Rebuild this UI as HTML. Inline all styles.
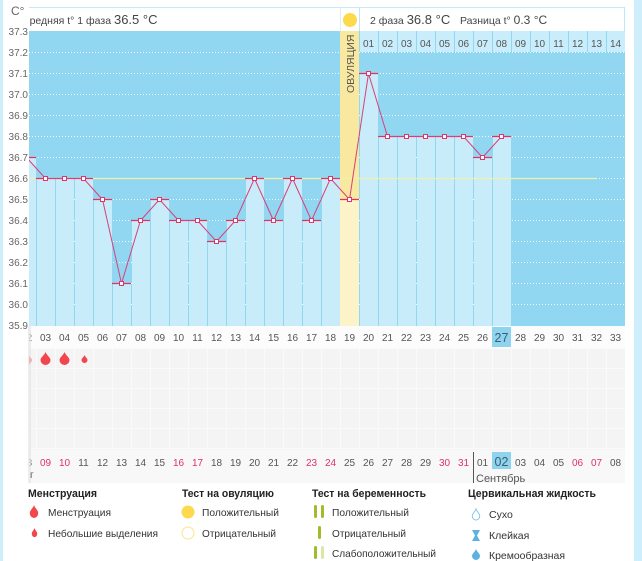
<!DOCTYPE html>
<html><head><meta charset="utf-8">
<style>
html,body{margin:0;padding:0;background:#fff;}
svg{display:block;}
text{font-family:"Liberation Sans","DejaVu Sans",sans-serif;}
</style></head>
<body>
<svg width="642" height="561" viewBox="0 0 642 561" xmlns="http://www.w3.org/2000/svg">
<defs>
<path id="drop" d="M0,0 C1,3 5,5.5 5,8 A5,5 0 0 1 -5,8 C-5,5.5 -1,3 0,0 Z"/>
<pattern id="cells" x="17" y="348" width="19" height="20" patternUnits="userSpaceOnUse">
<rect width="19" height="20" fill="#fafafa"/>
<rect x="1" y="1" width="18" height="19" fill="#f4f4f4"/>
</pattern>
</defs>
<rect width="642" height="561" fill="#fff"/>
<!-- side strips -->
<rect x="0" y="0" width="3" height="561" fill="#cdeefa"/>
<rect x="634" y="0" width="8" height="561" fill="#cdeefa"/>

<!-- header -->
<line x1="29" y1="7.5" x2="625" y2="7.5" stroke="#c6e9f7"/>
<line x1="340.5" y1="7" x2="340.5" y2="31" stroke="#d8eff9"/>
<line x1="359.5" y1="7" x2="359.5" y2="31" stroke="#bfe6f6"/>
<line x1="624.5" y1="7" x2="624.5" y2="31" stroke="#bfe6f6"/>
<text x="22" y="24" font-size="10.5" fill="#444">Средняя t° 1 фаза <tspan font-size="13">36.5 °C</tspan></text>
<circle cx="350" cy="20" r="7" fill="#fdd94e"/>
<text x="370" y="24" font-size="10.5" fill="#444">2 фаза <tspan font-size="13">36.8 °C</tspan></text>
<text x="460" y="24" font-size="10.5" fill="#444">Разница t° <tspan font-size="12">0.3 °C</tspan></text>

<!-- chart bg -->
<rect x="17" y="31" width="608" height="295" fill="#92d7f2"/>
<g stroke="#fff" stroke-dasharray="1 2" stroke-width="1" opacity="0.9">
<line x1="29" y1="52.5" x2="625" y2="52.5"/>
<line x1="29" y1="73.5" x2="625" y2="73.5"/>
<line x1="29" y1="94.5" x2="625" y2="94.5"/>
<line x1="29" y1="115.5" x2="625" y2="115.5"/>
<line x1="29" y1="136.5" x2="625" y2="136.5"/>
<line x1="29" y1="157.5" x2="625" y2="157.5"/>
<line x1="29" y1="178.5" x2="625" y2="178.5"/>
<line x1="29" y1="199.5" x2="625" y2="199.5"/>
<line x1="29" y1="220.5" x2="625" y2="220.5"/>
<line x1="29" y1="241.5" x2="625" y2="241.5"/>
<line x1="29" y1="262.5" x2="625" y2="262.5"/>
<line x1="29" y1="283.5" x2="625" y2="283.5"/>
<line x1="29" y1="304.5" x2="625" y2="304.5"/>
</g>

<!-- bars -->
<g fill="#c8ecfa">
<rect x="18" y="157" width="18" height="169"/>
<rect x="37" y="178" width="18" height="148"/>
<rect x="56" y="178" width="18" height="148"/>
<rect x="75" y="178" width="18" height="148"/>
<rect x="94" y="199" width="18" height="127"/>
<rect x="113" y="283" width="18" height="43"/>
<rect x="132" y="220" width="18" height="106"/>
<rect x="151" y="199" width="18" height="127"/>
<rect x="170" y="220" width="18" height="106"/>
<rect x="189" y="220" width="18" height="106"/>
<rect x="208" y="241" width="18" height="85"/>
<rect x="227" y="220" width="18" height="106"/>
<rect x="246" y="178" width="18" height="148"/>
<rect x="265" y="220" width="18" height="106"/>
<rect x="284" y="178" width="18" height="148"/>
<rect x="303" y="220" width="18" height="106"/>
<rect x="322" y="178" width="18" height="148"/>
<rect x="360" y="73" width="18" height="253"/>
<rect x="379" y="136" width="18" height="190"/>
<rect x="398" y="136" width="18" height="190"/>
<rect x="417" y="136" width="18" height="190"/>
<rect x="436" y="136" width="18" height="190"/>
<rect x="455" y="136" width="18" height="190"/>
<rect x="474" y="157" width="18" height="169"/>
<rect x="493" y="136" width="18" height="190"/>
</g>
<!-- ovulation column -->
<rect x="340" y="31" width="19" height="168" fill="#f9e89f"/>
<rect x="340" y="199" width="19" height="127" fill="#fdf3c9"/>
<text transform="translate(354,93) rotate(-90)" font-size="10.5" fill="#555">ОВУЛЯЦИЯ</text>

<!-- phase 2 day row -->
<g fill="#c9edfb">
<rect x="360" y="31" width="18" height="21"/><rect x="379" y="31" width="18" height="21"/>
<rect x="398" y="31" width="18" height="21"/><rect x="417" y="31" width="18" height="21"/>
<rect x="436" y="31" width="18" height="21"/><rect x="455" y="31" width="18" height="21"/>
<rect x="474" y="31" width="18" height="21"/><rect x="493" y="31" width="18" height="21"/>
<rect x="512" y="31" width="18" height="21"/><rect x="531" y="31" width="18" height="21"/>
<rect x="550" y="31" width="18" height="21"/><rect x="569" y="31" width="18" height="21"/>
<rect x="588" y="31" width="18" height="21"/><rect x="607" y="31" width="18" height="21"/>
</g>
<g font-size="10" fill="#555" text-anchor="middle">
<text x="368.5" y="47">01</text><text x="387.5" y="47">02</text><text x="406.5" y="47">03</text>
<text x="425.5" y="47">04</text><text x="444.5" y="47">05</text><text x="463.5" y="47">06</text>
<text x="482.5" y="47">07</text><text x="501.5" y="47">08</text><text x="520.5" y="47">09</text>
<text x="539.5" y="47">10</text><text x="558.5" y="47">11</text><text x="577.5" y="47">12</text>
<text x="596.5" y="47">13</text><text x="615.5" y="47">14</text>
</g>

<!-- 36.6 line -->
<line x1="29" y1="178.5" x2="597" y2="178.5" stroke="#eef2a6" stroke-width="1.3"/>

<!-- bar tops -->
<g stroke="#e8305e" stroke-width="1.2">
<line x1="17" y1="157.5" x2="36" y2="157.5"/>
<line x1="36" y1="178.5" x2="55" y2="178.5"/>
<line x1="55" y1="178.5" x2="74" y2="178.5"/>
<line x1="74" y1="178.5" x2="93" y2="178.5"/>
<line x1="93" y1="199.5" x2="112" y2="199.5"/>
<line x1="112" y1="283.5" x2="131" y2="283.5"/>
<line x1="131" y1="220.5" x2="150" y2="220.5"/>
<line x1="150" y1="199.5" x2="169" y2="199.5"/>
<line x1="169" y1="220.5" x2="188" y2="220.5"/>
<line x1="188" y1="220.5" x2="207" y2="220.5"/>
<line x1="207" y1="241.5" x2="226" y2="241.5"/>
<line x1="226" y1="220.5" x2="245" y2="220.5"/>
<line x1="245" y1="178.5" x2="264" y2="178.5"/>
<line x1="264" y1="220.5" x2="283" y2="220.5"/>
<line x1="283" y1="178.5" x2="302" y2="178.5"/>
<line x1="302" y1="220.5" x2="321" y2="220.5"/>
<line x1="321" y1="178.5" x2="340" y2="178.5"/>
<line x1="340" y1="199.5" x2="359" y2="199.5"/>
<line x1="359" y1="73.5" x2="378" y2="73.5"/>
<line x1="378" y1="136.5" x2="397" y2="136.5"/>
<line x1="397" y1="136.5" x2="416" y2="136.5"/>
<line x1="416" y1="136.5" x2="435" y2="136.5"/>
<line x1="435" y1="136.5" x2="454" y2="136.5"/>
<line x1="454" y1="136.5" x2="473" y2="136.5"/>
<line x1="473" y1="157.5" x2="492" y2="157.5"/>
<line x1="492" y1="136.5" x2="511" y2="136.5"/>
</g>
<polyline fill="none" stroke="#d8407a" stroke-width="1" points="26.5,157.5 45.5,178.5 64.5,178.5 83.5,178.5 102.5,199.5 121.5,283.5 140.5,220.5 159.5,199.5 178.5,220.5 197.5,220.5 216.5,241.5 235.5,220.5 254.5,178.5 273.5,220.5 292.5,178.5 311.5,220.5 330.5,178.5 349.5,199.5 368.5,73.5 387.5,136.5 406.5,136.5 425.5,136.5 444.5,136.5 463.5,136.5 482.5,157.5 501.5,136.5"/>
<g fill="#fff" stroke="#d8386e" stroke-width="1">
<rect x="43.5" y="176.5" width="4" height="4"/><rect x="62.5" y="176.5" width="4" height="4"/>
<rect x="81.5" y="176.5" width="4" height="4"/><rect x="100.5" y="197.5" width="4" height="4"/>
<rect x="119.5" y="281.5" width="4" height="4"/><rect x="138.5" y="218.5" width="4" height="4"/>
<rect x="157.5" y="197.5" width="4" height="4"/><rect x="176.5" y="218.5" width="4" height="4"/>
<rect x="195.5" y="218.5" width="4" height="4"/><rect x="214.5" y="239.5" width="4" height="4"/>
<rect x="233.5" y="218.5" width="4" height="4"/><rect x="252.5" y="176.5" width="4" height="4"/>
<rect x="271.5" y="218.5" width="4" height="4"/><rect x="290.5" y="176.5" width="4" height="4"/>
<rect x="309.5" y="218.5" width="4" height="4"/><rect x="328.5" y="176.5" width="4" height="4"/>
<rect x="347.5" y="197.5" width="4" height="4"/><rect x="366.5" y="71.5" width="4" height="4"/>
<rect x="385.5" y="134.5" width="4" height="4"/><rect x="404.5" y="134.5" width="4" height="4"/>
<rect x="423.5" y="134.5" width="4" height="4"/><rect x="442.5" y="134.5" width="4" height="4"/>
<rect x="461.5" y="134.5" width="4" height="4"/><rect x="480.5" y="155.5" width="4" height="4"/>
<rect x="499.5" y="134.5" width="4" height="4"/>
</g>

<!-- bottom day row -->
<rect x="17" y="326" width="608" height="22" fill="#fcfcfc"/>
<rect x="492" y="327" width="19" height="20" fill="#8fd4ef"/>
<g font-size="10" fill="#555" text-anchor="middle">
<text x="26.5" y="341">02</text><text x="45.5" y="341">03</text><text x="64.5" y="341">04</text>
<text x="83.5" y="341">05</text><text x="102.5" y="341">06</text><text x="121.5" y="341">07</text>
<text x="140.5" y="341">08</text><text x="159.5" y="341">09</text><text x="178.5" y="341">10</text>
<text x="197.5" y="341">11</text><text x="216.5" y="341">12</text><text x="235.5" y="341">13</text>
<text x="254.5" y="341">14</text><text x="273.5" y="341">15</text><text x="292.5" y="341">16</text>
<text x="311.5" y="341">17</text><text x="330.5" y="341">18</text><text x="349.5" y="341">19</text>
<text x="368.5" y="341">20</text><text x="387.5" y="341">21</text><text x="406.5" y="341">22</text>
<text x="425.5" y="341">23</text><text x="444.5" y="341">24</text><text x="463.5" y="341">25</text>
<text x="482.5" y="341">26</text><text x="501.5" y="342" font-size="12.5" fill="#3d5c6e">27</text>
<text x="520.5" y="341">28</text><text x="539.5" y="341">29</text><text x="558.5" y="341">30</text>
<text x="577.5" y="341">31</text><text x="596.5" y="341">32</text><text x="615.5" y="341">33</text>
</g>

<!-- grid area -->
<rect x="17" y="348" width="608" height="102" fill="url(#cells)"/>
<rect x="17" y="450" width="608" height="33" fill="#f8f8f8"/>
<g fill="#f2464e">
<use href="#drop" transform="translate(26.5,352)"/>
<use href="#drop" transform="translate(45.5,352)"/>
<use href="#drop" transform="translate(64.5,352)"/>
<use href="#drop" transform="translate(84.5,355) scale(0.6,0.62)"/>
</g>

<!-- date row -->
<rect x="492" y="452" width="19" height="17" fill="#8fd4ef"/>
<g font-size="10" fill="#555" text-anchor="middle">
<text x="26.5" y="466">08</text>
<text x="45.5" y="466" fill="#e0306a">09</text><text x="64.5" y="466" fill="#e0306a">10</text>
<text x="83.5" y="466">11</text><text x="102.5" y="466">12</text><text x="121.5" y="466">13</text>
<text x="140.5" y="466">14</text><text x="159.5" y="466">15</text>
<text x="178.5" y="466" fill="#e0306a">16</text><text x="197.5" y="466" fill="#e0306a">17</text>
<text x="216.5" y="466">18</text><text x="235.5" y="466">19</text><text x="254.5" y="466">20</text>
<text x="273.5" y="466">21</text><text x="292.5" y="466">22</text>
<text x="311.5" y="466" fill="#e0306a">23</text><text x="330.5" y="466" fill="#e0306a">24</text>
<text x="349.5" y="466">25</text><text x="368.5" y="466">26</text><text x="387.5" y="466">27</text>
<text x="406.5" y="466">28</text><text x="425.5" y="466">29</text>
<text x="444.5" y="466" fill="#e0306a">30</text><text x="463.5" y="466" fill="#e0306a">31</text>
<text x="482.5" y="466">01</text><text x="501.5" y="466" font-size="12.5" fill="#3d5c6e">02</text>
<text x="520.5" y="466">03</text><text x="539.5" y="466">04</text><text x="558.5" y="466">05</text>
<text x="577.5" y="466" fill="#e0306a">06</text><text x="596.5" y="466" fill="#e0306a">07</text>
<text x="615.5" y="466">08</text>
</g>
<line x1="473.5" y1="452" x2="473.5" y2="483" stroke="#555"/>
<text x="476" y="482" font-size="11" fill="#555">Сентябрь</text>

<!-- left panel -->
<rect x="3" y="0" width="26" height="483" fill="#fff"/>
<rect x="28" y="326" width="3" height="157" fill="#e6e6e6" opacity="0.7"/>
<text x="11" y="15" font-size="12" fill="#666">C°</text>
<g font-size="10" fill="#666" text-anchor="end">
<text x="28" y="35">37.3</text><text x="28" y="56">37.2</text><text x="28" y="77">37.1</text>
<text x="28" y="98">37.0</text><text x="28" y="119">36.9</text><text x="28" y="140">36.8</text>
<text x="28" y="161">36.7</text><text x="28" y="182">36.6</text><text x="28" y="203">36.5</text>
<text x="28" y="224">36.4</text><text x="28" y="245">36.3</text><text x="28" y="266">36.2</text>
<text x="28" y="287">36.1</text><text x="28" y="308">36.0</text><text x="28" y="329">35.9</text>
</g>
<text x="30" y="478" font-size="10" fill="#555">г</text>

<!-- legend -->
<g font-size="11" font-weight="bold" fill="#222">
<text x="28" y="497" textLength="69" lengthAdjust="spacingAndGlyphs">Менструация</text>
<text x="182" y="497" textLength="92" lengthAdjust="spacingAndGlyphs">Тест на овуляцию</text>
<text x="312" y="497" textLength="114" lengthAdjust="spacingAndGlyphs">Тест на беременность</text>
<text x="468" y="497" textLength="128" lengthAdjust="spacingAndGlyphs">Цервикальная жидкость</text>
</g>
<g font-size="10.5" fill="#333">
<text x="48" y="516" textLength="63" lengthAdjust="spacingAndGlyphs">Менструация</text>
<text x="48" y="537" textLength="110" lengthAdjust="spacingAndGlyphs">Небольшие выделения</text>
<text x="202" y="516" textLength="77" lengthAdjust="spacingAndGlyphs">Положительный</text>
<text x="202" y="537" textLength="74" lengthAdjust="spacingAndGlyphs">Отрицательный</text>
<text x="332" y="516" textLength="77" lengthAdjust="spacingAndGlyphs">Положительный</text>
<text x="332" y="537" textLength="74" lengthAdjust="spacingAndGlyphs">Отрицательный</text>
<text x="332" y="557" textLength="104" lengthAdjust="spacingAndGlyphs">Слабоположительный</text>
<text x="489" y="518">Сухо</text>
<text x="489" y="539">Клейкая</text>
<text x="489" y="559" textLength="76" lengthAdjust="spacingAndGlyphs">Кремообразная</text>
</g>
<g fill="#f2464e">
<use href="#drop" transform="translate(34,505) scale(0.85,1)"/>
<use href="#drop" transform="translate(34.5,528) scale(0.55,0.7)"/>
</g>
<circle cx="188" cy="512" r="6.5" fill="#fdd94e"/>
<circle cx="188" cy="533" r="6" fill="#fff" stroke="#fde48a" stroke-width="1"/>
<g>
<rect x="314" y="505" width="3" height="13" rx="1.5" fill="#9dbd2b"/>
<rect x="321" y="505" width="3" height="13" rx="1.5" fill="#9dbd2b"/>
<rect x="318" y="526" width="3" height="13" rx="1.5" fill="#9dbd2b"/>
<rect x="314" y="546" width="3" height="13" rx="1.5" fill="#9dbd2b"/>
<rect x="321" y="546" width="3" height="13" rx="1.5" fill="#d9e7a8"/>
</g>
<use href="#drop" transform="translate(476,509) scale(0.75,0.85)" fill="none" stroke="#7cc0e6" stroke-width="1.2"/>
<polygon points="472,530 480,530 477,535.5 480,541 472,541 475,535.5" fill="#5eb2e0"/>
<use href="#drop" transform="translate(476,549) scale(0.8,0.85)" fill="#5eb2e0"/>
</svg>
</body></html>
